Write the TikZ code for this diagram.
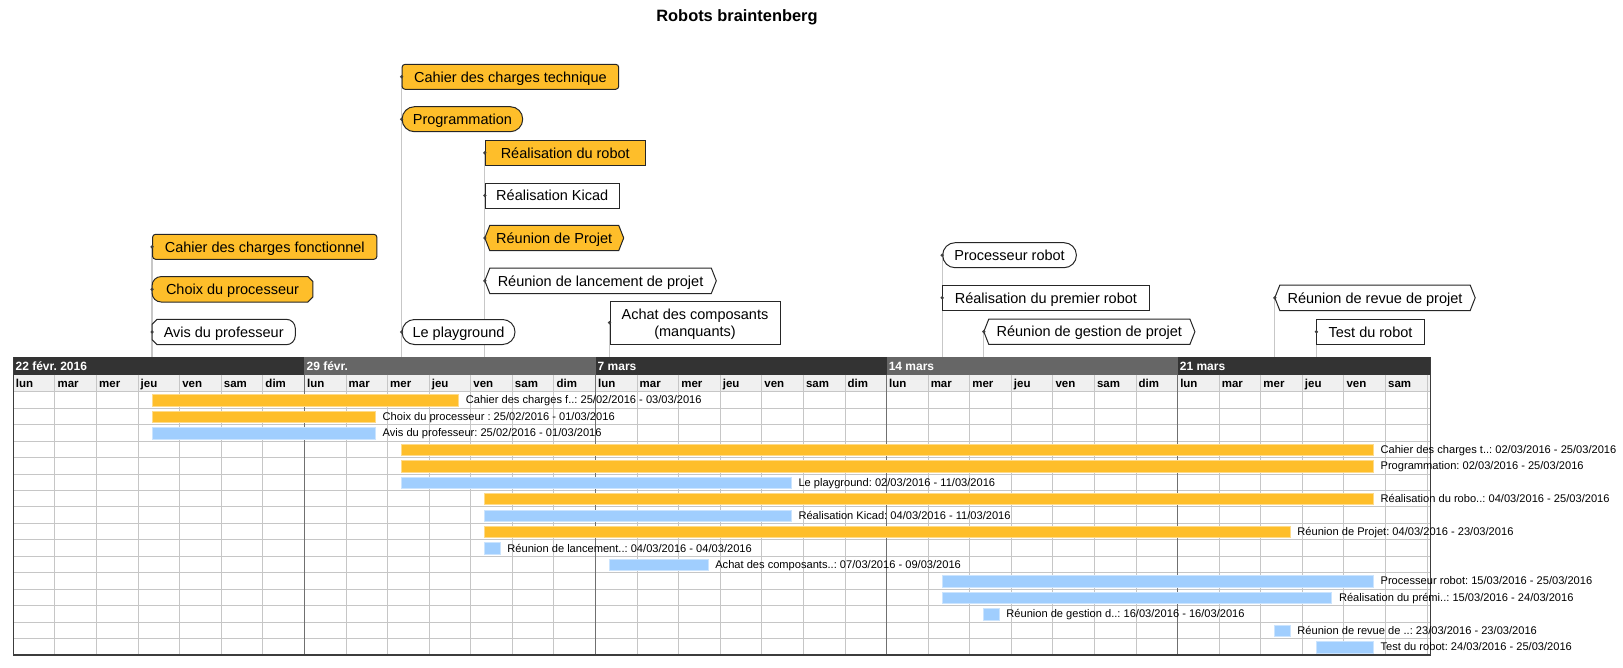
\documentclass[tikz,border=0pt]{standalone}
\usepackage{fontspec}
\setmainfont{Liberation Sans}
\usetikzlibrary{positioning, calc}
\frenchspacing

\definecolor{barorange}{RGB}{254,190,42}
\definecolor{barblue}{RGB}{160,206,254}
\definecolor{weekdark}{RGB}{51,51,51}
\definecolor{weekmid}{RGB}{102,102,102}
\definecolor{dayband}{RGB}{240,240,240}
\definecolor{gridgray}{RGB}{198,198,198}
\definecolor{weekgray}{RGB}{112,112,112}
\definecolor{chartline}{RGB}{60,60,60}

\pgfdeclarelayer{stems}
\pgfdeclarelayer{frames}
\pgfsetlayers{stems,frames,main}

% chart grid: left edge, day width, first task row, row height
\def\gxo{13.4}
\def\gdd{41.58}
\def\gyo{391.7}
\def\grh{16.46}
\def\gxe{1430.7}
\def\gyh{357.3}
\def\gyd{374.7}
\def\gyb{655}

% one task of the chart: row, first day, last day, colour, text
\newcommand{\gtask}[5]{%
  \draw[gbar=#4] ({\gxo+(#2+8/24)*\gdd},{\gyo+(#1-1)*\grh+3})
    rectangle ({\gxo+(#3+17/24)*\gdd},{\gyo+(#1-1)*\grh+14.4});
  \node[blabel] (t#1) at ({\gxo+(#3+17/24)*\gdd+7},{\gyo+(#1-0.5)*\grh}) {#5};
}

% pointed outline for the meetings
\newcommand{\hexframe}[2]{%
  \draw[tagframe, fill=#2] (#1.west) -- ($(#1.north west)+(5,0)$)
    -- ($(#1.north east)+(-5,0)$) -- (#1.east)
    -- ($(#1.south east)+(-5,0)$) -- ($(#1.south west)+(5,0)$) -- cycle;
}

\begin{document}
\begin{tikzpicture}[x=1pt, y=-1pt,
  tagbox/.style={anchor=west, inner sep=0pt, minimum height=25pt,
                 text height=10.4pt, text depth=0pt,
                 font=\fontsize{14.5}{17.7}\selectfont},
  tagframe/.style={draw=black!85, line width=1pt},
  recttag/.style={tagbox, tagframe},
  roundtag/.style={tagbox, tagframe, rounded corners=3pt},
  pilltag/.style={tagbox, tagframe, rounded corners=12.4pt},
  stem/.style={draw=black!22, line width=1.3pt},
  stemdot/.style={fill=black!75},
  gbar/.style={fill=#1, draw=#1!55!white, line width=0.8pt},
  blabel/.style={anchor=west, inner sep=0pt, text height=8pt, text depth=0pt,
                 font=\fontsize{11.1}{13}\selectfont},
  weeklab/.style={anchor=west, inner sep=0pt, text=white, text height=8.6pt,
                  text depth=0pt, font=\bfseries\fontsize{12}{14}\selectfont},
  daylab/.style={anchor=west, inner sep=0pt, text height=8.2pt, text depth=0pt,
                 font=\bfseries\fontsize{11.5}{13}\selectfont},
  gridline/.style={draw=gridgray, line width=1pt},
  weekline/.style={draw=weekgray, line width=1pt}
]
  \useasboundingbox (0,0) rectangle (1623,667);

  \node[font=\bfseries\fontsize{16.4}{19}\selectfont] (title) at (737,17.6) {Robots braintenberg};

  % timeline tags
  \node[roundtag, fill=barorange, minimum width=216.6] (cdct) at (401.6,76.8) {Cahier des charges technique};
  \node[pilltag, fill=barorange, minimum width=120.6] (prog) at (401.6,119.2) {Programmation};
  \node[recttag, fill=barorange, minimum width=159.9] (rrob) at (484.8,152.8) {Réalisation du robot};
  \node[recttag, fill=white, minimum width=133.9] (kicad) at (484.8,195.5) {Réalisation Kicad};
  \node[tagbox, minimum width=138.5] (rproj) at (484.8,238) {Réunion de Projet};
  \node[tagbox, minimum width=231.1] (rlanc) at (484.8,280.8) {Réunion de lancement de projet};
  \node[recttag, fill=white, minimum width=170, minimum height=43.3, align=center,
        text height=28.1pt, text depth=0pt] (achat) at (609.5,322.7) {Achat des composants\\(manquants)};
  \node[roundtag, fill=barorange, minimum width=224.3] (cdcf) at (152.1,246.8) {Cahier des charges fonctionnel};
  \node[tagbox, minimum width=160.4] (choix) at (152.1,289.3) {Choix du processeur};
  \node[tagbox, minimum width=142.8] (avis) at (152.1,332) {Avis du professeur};
  \node[pilltag, fill=white, minimum width=112.9] (playg) at (401.6,332) {Le playground};
  \node[pilltag, fill=white, minimum width=133.7] (proc) at (942.2,255.2) {Processeur robot};
  \node[recttag, fill=white, minimum width=206.4] (rprem) at (942.2,297.8) {Réalisation du premier robot};
  \node[tagbox, minimum width=210.7] (rgest) at (983.8,331.7) {Réunion de gestion de projet};
  \node[tagbox, minimum width=200] (rrev) at (1274.8,297.8) {Réunion de revue de projet};
  \node[recttag, fill=white, minimum width=107.3] (test) at (1316.4,331.8) {Test du robot};

  \begin{pgfonlayer}{frames}
    \hexframe{rproj}{barorange}
    \hexframe{rlanc}{white}
    \hexframe{rgest}{white}
    \hexframe{rrev}{white}
    \draw[tagframe, fill=barorange, rounded corners=9pt]
      (choix.north) -- (choix.north west) -- (choix.south west) -- (choix.south)
      [sharp corners] -- ($(choix.south east)+(-5,0)$) -- ($(choix.south east)+(0,-5)$)
      -- ($(choix.north east)+(0,5)$) -- ($(choix.north east)+(-5,0)$) -- cycle;
    \draw[tagframe, fill=white, rounded corners=9pt]
      (avis.south) -- (avis.south east) -- (avis.north east) -- (avis.north)
      [sharp corners] -- ($(avis.north west)+(5,0)$) -- ($(avis.north west)+(0,5)$)
      -- ($(avis.south west)+(0,-5)$) -- ($(avis.south west)+(5,0)$) -- cycle;
  \end{pgfonlayer}

  % stems down to the chart
  \coordinate (gtop) at (0,\gyh);
  \begin{pgfonlayer}{stems}
    \foreach \n in {cdct,prog,rrob,kicad,rproj,rlanc,achat,cdcf,choix,avis,playg,proc,rprem,rgest,rrev,test}
      \draw[stem] (\n.west) -- (\n.west |- gtop);
  \end{pgfonlayer}
  \foreach \n in {cdct,prog,rrob,kicad,rproj,rlanc,achat,cdcf,choix,avis,playg,proc,rprem,rgest,rrev,test}
    \fill[stemdot] (\n.west) circle (1.8);

  % chart header
  \foreach \w/\c/\lab in {0/weekdark/22 févr. 2016, 1/weekmid/29 févr., 2/weekdark/7 mars,
                          3/weekmid/14 mars, 4/weekdark/21 mars} {
    \fill[\c] ({\gxo+7*\w*\gdd},\gyh) rectangle ({min(\gxo+7*(\w+1)*\gdd,\gxe)},\gyd);
    \node[weeklab] (w\w) at ({\gxo+7*\w*\gdd+2},{(\gyh+\gyd)/2}) {\lab};
  }
  \fill[dayband] (\gxo,\gyd) rectangle (\gxe,\gyo);
  \foreach \w in {0,...,4}
    \foreach \n [count=\k from 0] in {lun,mar,mer,jeu,ven,sam,dim} {
      \pgfmathtruncatemacro{\d}{7*\w+\k}
      \ifnum\d<34
        \node[daylab] (d\d) at ({\gxo+\d*\gdd+2.4},{(\gyd+\gyo)/2}) {\n};
      \fi
    }

  % grid
  \foreach \r in {0,...,15}
    \draw[gridline] (\gxo,{\gyo+\r*\grh}) -- (\gxe,{\gyo+\r*\grh});
  \foreach \d in {1,...,34}
    \draw[gridline] ({\gxo+\d*\gdd},\gyd) -- ({\gxo+\d*\gdd},\gyb);
  \foreach \w in {1,...,4}
    \draw[weekline] ({\gxo+7*\w*\gdd},\gyd) -- ({\gxo+7*\w*\gdd},\gyb);
  \draw[chartline, line width=1.5pt] (\gxo,\gyh) -- (\gxo,\gyb) -- (\gxe,\gyb) -- (\gxe,\gyh);

  % tasks
  \gtask{1}{3}{10}{barorange}{Cahier des charges f..: 25/02/2016 - 03/03/2016}
  \gtask{2}{3}{8}{barorange}{Choix du processeur : 25/02/2016 - 01/03/2016}
  \gtask{3}{3}{8}{barblue}{Avis du professeur: 25/02/2016 - 01/03/2016}
  \gtask{4}{9}{32}{barorange}{Cahier des charges t..: 02/03/2016 - 25/03/2016}
  \gtask{5}{9}{32}{barorange}{Programmation: 02/03/2016 - 25/03/2016}
  \gtask{6}{9}{18}{barblue}{Le playground: 02/03/2016 - 11/03/2016}
  \gtask{7}{11}{32}{barorange}{Réalisation du robo..: 04/03/2016 - 25/03/2016}
  \gtask{8}{11}{18}{barblue}{Réalisation Kicad: 04/03/2016 - 11/03/2016}
  \gtask{9}{11}{30}{barorange}{Réunion de Projet: 04/03/2016 - 23/03/2016}
  \gtask{10}{11}{11}{barblue}{Réunion de lancement..: 04/03/2016 - 04/03/2016}
  \gtask{11}{14}{16}{barblue}{Achat des composants..: 07/03/2016 - 09/03/2016}
  \gtask{12}{22}{32}{barblue}{Processeur robot: 15/03/2016 - 25/03/2016}
  \gtask{13}{22}{31}{barblue}{Réalisation du prémi..: 15/03/2016 - 24/03/2016}
  \gtask{14}{23}{23}{barblue}{Réunion de gestion d..: 16/03/2016 - 16/03/2016}
  \gtask{15}{30}{30}{barblue}{Réunion de revue de ..: 23/03/2016 - 23/03/2016}
  \gtask{16}{31}{32}{barblue}{Test du robot: 24/03/2016 - 25/03/2016}
\end{tikzpicture}
\end{document}
